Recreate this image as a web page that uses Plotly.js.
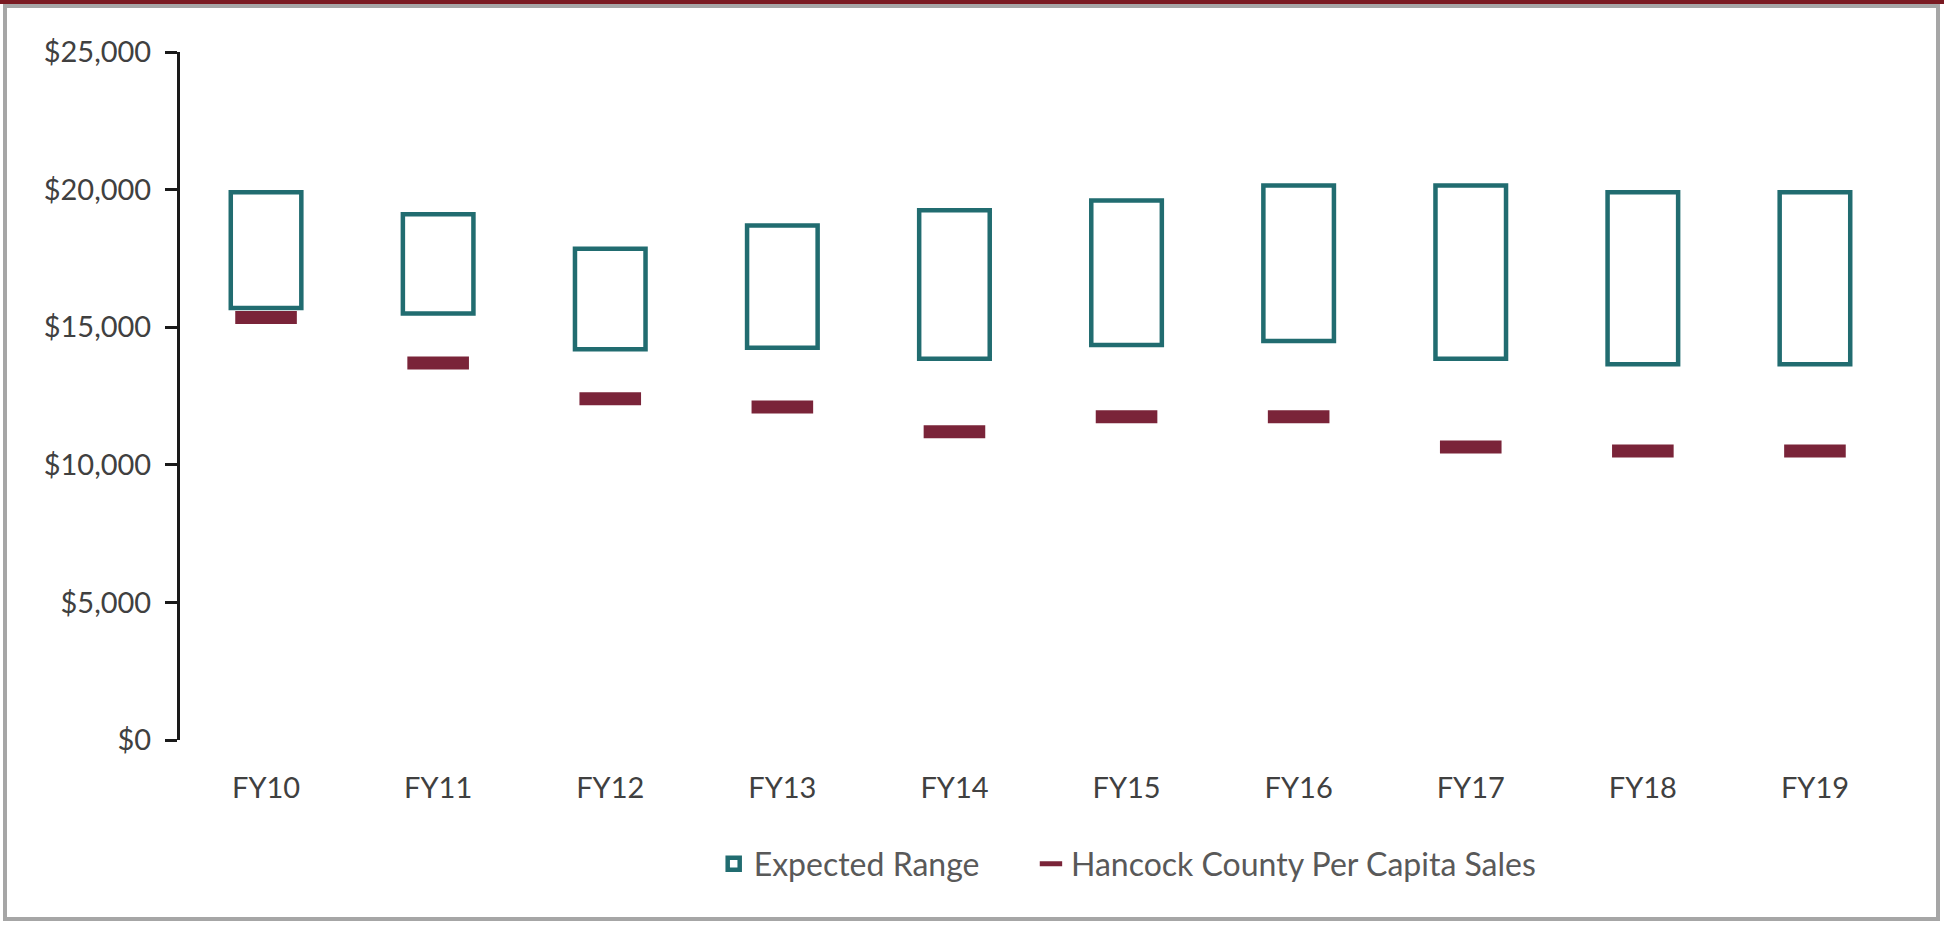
<!DOCTYPE html>
<html>
<head>
<meta charset="utf-8">
<script src="https://cdn.plot.ly/plotly-3.0.1.min.js"></script>
<style>
  html, body { margin: 0; padding: 0; background: #ffffff; }
  #wrap { position: relative; width: 1950px; height: 925px; overflow: hidden; background: #ffffff; }
  #chart { position: absolute; left: 0; top: 0; width: 1950px; height: 925px; }
  #frame { position: absolute; left: 3px; top: 4px; width: 1937px; height: 917px;
           border: 4px solid #a6a6a6; box-sizing: border-box; pointer-events: none; }
  #topbar { position: absolute; left: 0; top: 0; width: 1944px; height: 4px; background: #7a1a22; pointer-events: none; }
</style>
</head>
<body>
<div id="wrap">
  <div id="chart"></div>
  <div id="frame"></div>
  <div id="topbar"></div>
</div>
<script>
// Categories (fiscal years)
const categories = ["FY10", "FY11", "FY12", "FY13", "FY14", "FY15", "FY16", "FY17", "FY18", "FY19"];
// Expected range: low and high ends
const expectedLow  = [15700, 15500, 14200, 14250, 13850, 14350, 14500, 13850, 13650, 13650];
const expectedHigh = [19900, 19100, 17850, 18700, 19250, 19600, 20150, 20150, 19900, 19900];
// Hancock County per capita sales
const hancockSales = [15350, 13700, 12400, 12100, 11200, 11750, 11750, 10650, 10500, 10500];
// Y-axis ticks
const yTickVals = [0, 5000, 10000, 15000, 20000, 25000];

const teal = "#216c70";
const maroon = "#7a2439";
const fontFam = "Lato, 'Open Sans', sans-serif";

const rangeTrace = {
  type: "bar",
  name: "Expected Range",
  x: categories,
  base: expectedLow,
  y: expectedHigh.map((h, i) => h - expectedLow[i]),
  width: 0.41,
  marker: { color: "rgba(255,255,255,1)", line: { color: teal, width: 4.5 } },
  legend: "legend",
  hoverinfo: "skip"
};

const salesTrace = {
  type: "scatter",
  mode: "markers",
  name: "Hancock County Per Capita Sales",
  x: categories,
  y: hancockSales,
  marker: { symbol: "line-ew", size: 44, color: maroon, line: { color: maroon, width: 13 } },
  legend: "legend2",
  hoverinfo: "skip"
};

const legendCommon = {
  orientation: "h",
  xref: "container", yref: "container",
  xanchor: "left",
  y: 0.066, yanchor: "middle",
  font: { family: fontFam, size: 32, color: "#595959" },
  itemclick: false, itemdoubleclick: false
};

const layout = {
  width: 1950,
  height: 925,
  paper_bgcolor: "#ffffff",
  plot_bgcolor: "#ffffff",
  margin: { l: 180, r: 49, t: 52, b: 185 },
  font: { family: fontFam, size: 29, color: "#404040" },
  showlegend: true,
  legend: Object.assign({}, legendCommon, { x: 0.366 }),
  legend2: Object.assign({}, legendCommon, { x: 0.5287 }),
  xaxis: {
    type: "category",
    range: [-0.5, 9.5],
    showline: false,
    showgrid: false,
    zeroline: false,
    ticks: "",
    ticklabelstandoff: 28,
    tickfont: { family: fontFam, size: 29, color: "#404040" },
    fixedrange: true
  },
  yaxis: {
    range: [0, 25000],
    tickvals: yTickVals,
    tickformat: "$,d",
    showline: true,
    linecolor: "#1a1a1a",
    linewidth: 3,
    ticks: "outside",
    ticklen: 12,
    tickwidth: 3,
    tickcolor: "#1a1a1a",
    showgrid: false,
    zeroline: false,
    ticklabelstandoff: 8,
    tickfont: { family: fontFam, size: 29, color: "#404040" },
    fixedrange: true
  },
  bargap: 0
};

Plotly.newPlot("chart", [rangeTrace, salesTrace], layout, { staticPlot: true, displayModeBar: false });
</script>
</body>
</html>
